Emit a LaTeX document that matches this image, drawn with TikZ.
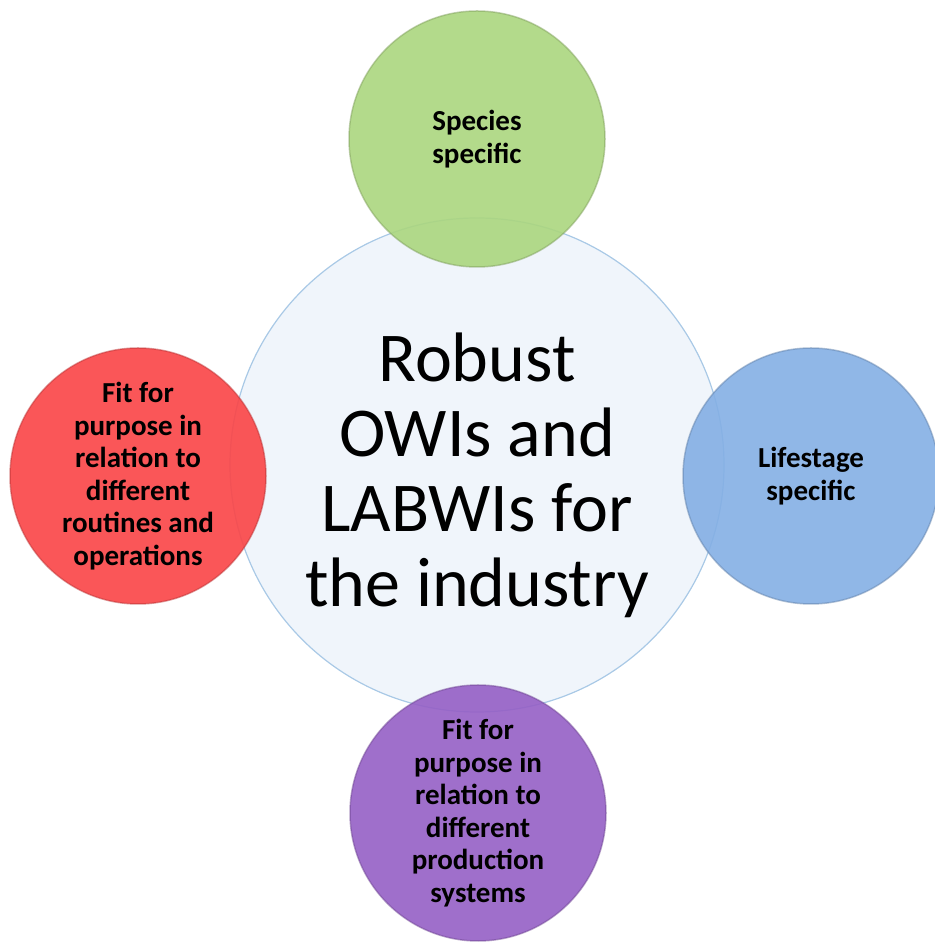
\documentclass[tikz,border=0pt]{standalone}
\usepackage{fontspec}
\setmainfont{Carlito}
\usepackage{tikz}

\definecolor{hubfill}{HTML}{F0F5FB}
\definecolor{hubline}{HTML}{A9C9E6}
\definecolor{speciesgreen}{HTML}{ABD67E}
\definecolor{lifeblue}{HTML}{84AFE4}
\definecolor{routinered}{HTML}{FA4446}
\definecolor{systempurple}{HTML}{955FC5}

\begin{document}
\begin{tikzpicture}[x=1pt, y=1pt,
    hub/.style={circle, inner sep=0pt, minimum size=494pt, fill=hubfill,
        draw=hubline, line width=1.2pt},
    hubtext/.style={align=center, font=\fontsize{70}{75}\selectfont},
    petal/.style={circle, inner sep=0pt, minimum size=256pt, fill=#1,
        fill opacity=0.9, text opacity=1, draw=#1!75!black, draw opacity=0.5,
        line width=1.5pt, align=center,
        font=\fontsize{29}{32.5}\selectfont\bfseries}]

    \useasboundingbox (0,0) rectangle (934,942);

    \coordinate (c0) at (477, 477);
    \coordinate (c1) at (477, 803);
    \coordinate (c2) at (811, 466);
    \coordinate (c3) at (138, 466);
    \coordinate (c4) at (478, 129);

    \node[hub] (hub) at (c0) {};
    \node[hubtext] (hubtitle) at ([yshift=-10pt]c0)
        {Robust\\OWIs and\\LABWIs for\\the industry};

    \node[petal=speciesgreen] (species) at (c1) {Species\\specific};
    \node[petal=lifeblue] (lifestage) at (c2) {Lifestage\\specific};
    \node[petal=routinered] (routines) at (c3)
        {Fit for\\purpose in\\relation to\\different\\routines and\\operations};
    \node[petal=systempurple] (systems) at (c4)
        {Fit for\\purpose in\\relation to\\different\\production\\systems};

\end{tikzpicture}
\end{document}
